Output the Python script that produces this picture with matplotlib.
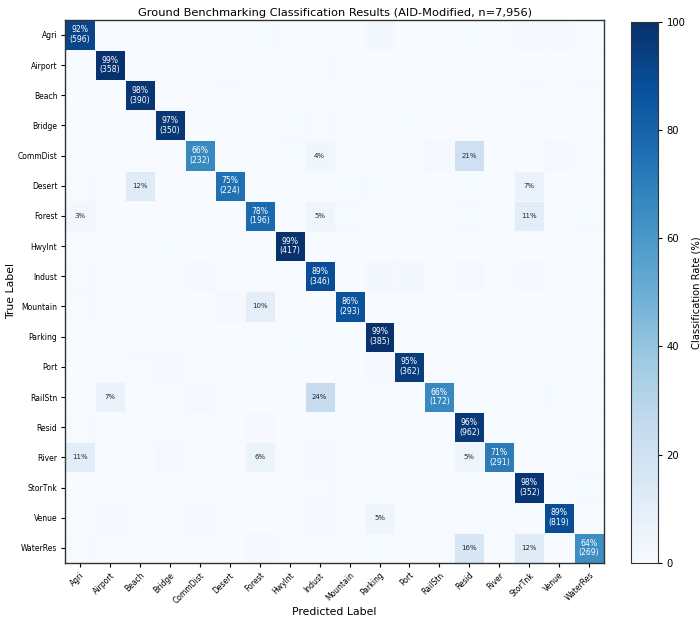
import matplotlib
matplotlib.use("Agg")
import matplotlib.pyplot as plt
import numpy as np

classes = ["Agri", "Airport", "Beach", "Bridge", "CommDist", "Desert", "Forest",
           "HwyInt", "Indust", "Mountain", "Parking", "Port", "RailStn", "Resid",
           "River", "StorTnk", "Venue", "WaterRes"]

# diagonal: correct rate (%) and correct count
diag_pct = [92, 99, 98, 97, 66, 75, 78, 99, 89, 86, 99, 95, 66, 96, 71, 98, 89, 64]
diag_count = [596, 358, 390, 350, 232, 224, 196, 417, 346, 293, 385, 362, 172, 962, 291, 352, 819, 269]

# off-diagonal confusion rates (%): (true, predicted, rate)
off_diag = [
    ("Agri", "Forest", 1), ("Agri", "HwyInt", 0.5), ("Agri", "Parking", 2),
    ("Agri", "Resid", 1), ("Agri", "StorTnk", 1.5), ("Agri", "Venue", 1.5),
    ("Airport", "Indust", 1),
    ("Beach", "Desert", 0.7), ("Beach", "StorTnk", 0.7), ("Beach", "WaterRes", 0.6),
    ("Bridge", "HwyInt", 1), ("Bridge", "Indust", 0.5), ("Bridge", "Port", 1),
    ("CommDist", "HwyInt", 1), ("CommDist", "Indust", 4), ("CommDist", "RailStn", 1.2),
    ("CommDist", "Resid", 21), ("CommDist", "Venue", 1.5),
    ("Desert", "Agri", 1), ("Desert", "Beach", 12), ("Desert", "Mountain", 1),
    ("Desert", "Parking", 1), ("Desert", "Resid", 1), ("Desert", "StorTnk", 7),
    ("Forest", "Agri", 3), ("Forest", "Indust", 5), ("Forest", "Mountain", 1),
    ("Forest", "Resid", 1), ("Forest", "StorTnk", 11), ("Forest", "WaterRes", 1),
    ("HwyInt", "Bridge", 1),
    ("Indust", "Agri", 1), ("Indust", "CommDist", 1.5), ("Indust", "Parking", 2),
    ("Indust", "Port", 2), ("Indust", "Resid", 1.5), ("Indust", "StorTnk", 1.5),
    ("Mountain", "Agri", 0.5), ("Mountain", "Desert", 1.5), ("Mountain", "Forest", 10),
    ("Parking", "HwyInt", 1),
    ("Port", "Beach", 1), ("Port", "Bridge", 1.5), ("Port", "Parking", 1.5),
    ("RailStn", "Airport", 7), ("RailStn", "CommDist", 1.5), ("RailStn", "Indust", 24),
    ("RailStn", "Venue", 1),
    ("Resid", "Agri", 0.5), ("Resid", "Forest", 1.5),
    ("River", "Agri", 11), ("River", "Bridge", 1.5), ("River", "Forest", 6),
    ("River", "Indust", 1.5), ("River", "Resid", 5),
    ("StorTnk", "Indust", 1), ("StorTnk", "WaterRes", 1),
    ("Venue", "Airport", 1.5), ("Venue", "CommDist", 1.5), ("Venue", "Indust", 1.5),
    ("Venue", "Parking", 5),
    ("WaterRes", "Agri", 1), ("WaterRes", "Forest", 1.5), ("WaterRes", "HwyInt", 0.5),
    ("WaterRes", "Parking", 1), ("WaterRes", "Resid", 16), ("WaterRes", "StorTnk", 12),
]

n = len(classes)
idx = {c: i for i, c in enumerate(classes)}
cm = np.zeros((n, n))
for i in range(n):
    cm[i, i] = diag_pct[i]
for t, p, v in off_diag:
    cm[idx[t], idx[p]] = v

fig = plt.figure(figsize=(7, 6.23), dpi=100)
ax = fig.add_axes([0.093, 0.0963, 0.770, 0.872])
cax = fig.add_axes([0.901, 0.0963, 0.0386, 0.869])

mesh = ax.pcolormesh(np.arange(n + 1), np.arange(n + 1), cm, cmap="Blues",
                     vmin=0, vmax=100, edgecolors="#f5f9fe", linewidth=0.5)
ax.set_xlim(0, n)
ax.set_ylim(n, 0)

for i in range(n):
    for j in range(n):
        v = cm[i, j]
        if i == j:
            ax.text(j + 0.5, i + 0.5, f"{int(v)}%\n({diag_count[i]})", ha="center",
                    va="center", fontsize=5.6, color="white", linespacing=1.1)
        elif v >= 3:
            ax.text(j + 0.5, i + 0.5, f"{int(v)}%", ha="center", va="center",
                    fontsize=5, color="#262626")

ax.set_xticks(np.arange(n) + 0.5)
ax.set_yticks(np.arange(n) + 0.5)
ax.set_xticklabels(classes, rotation=45, ha="right", rotation_mode="anchor", fontsize=5.5)
ax.set_yticklabels(classes, fontsize=5.5)
ax.tick_params(length=3, width=0.8, pad=2.5)
for s in ax.spines.values():
    s.set_color("#333333")
    s.set_linewidth(1.0)

ax.set_xlabel("Predicted Label", fontsize=7.8, labelpad=1)
ax.set_ylabel("True Label", fontsize=7.8, labelpad=1)
ax.set_title("Ground Benchmarking Classification Results (AID-Modified, n=7,956)",
             fontsize=8.2, pad=3)

cb = fig.colorbar(mesh, cax=cax)
cb.set_label("Classification Rate (%)", fontsize=7.2, labelpad=4)
cb.ax.tick_params(labelsize=7.2, length=3)
cb.outline.set_edgecolor("#333333")

fig.savefig("out.png", dpi=100)
